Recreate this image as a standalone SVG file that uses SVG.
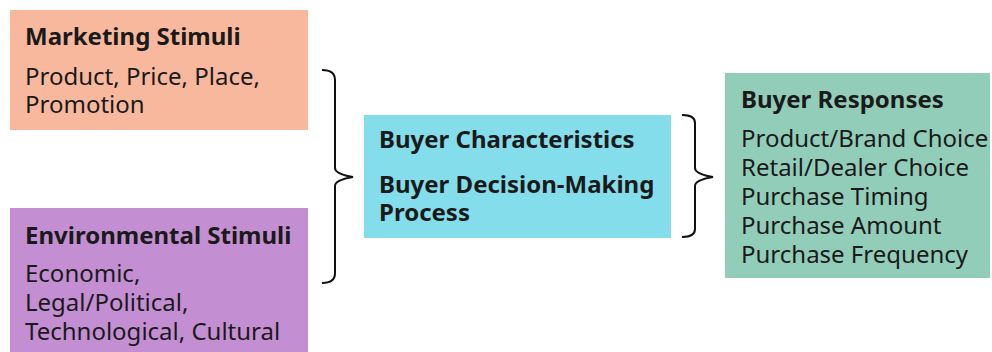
<svg xmlns="http://www.w3.org/2000/svg" width="992" height="352" viewBox="0 0 992 352">
<style>
text{font-family:"Noto Sans","Open Sans","DejaVu Sans",sans-serif;fill:#1a1a1a;font-size:24px}
.t{font-weight:bold;font-size:24px}
.br{fill:none;stroke:#111;stroke-width:2}
</style>
<rect width="992" height="352" fill="#fff"/>
<g id="marketing">
<rect x="10" y="10" width="298" height="120" fill="#F8B89E"/>
<text class="t" x="25" y="45">Marketing Stimuli</text>
<text x="25" y="85">Product, Price, Place,</text>
<text x="25" y="113">Promotion</text>
</g>
<g id="environmental">
<rect x="10" y="208" width="298" height="144" fill="#C48ED3"/>
<text class="t" x="25" y="244">Environmental Stimuli</text>
<text x="25" y="282">Economic,</text>
<text x="25" y="311">Legal/Political,</text>
<text x="25" y="340">Technological, Cultural</text>
</g>
<g id="buyer">
<rect x="364" y="115" width="307" height="123" fill="#84DDEB"/>
<text class="t" x="379" y="148">Buyer Characteristics</text>
<text class="t" x="379" y="193">Buyer Decision-Making</text>
<text class="t" x="379" y="221">Process</text>
</g>
<g id="responses">
<rect x="725" y="73" width="265" height="205" fill="#92CDB9"/>
<text class="t" x="741" y="108">Buyer Responses</text>
<text x="741" y="147">Product/Brand Choice</text>
<text x="741" y="176">Retail/Dealer Choice</text>
<text x="741" y="205">Purchase Timing</text>
<text x="741" y="234">Purchase Amount</text>
<text x="741" y="263">Purchase Frequency</text>
</g>
<g id="connectors">
<path class="br" d="M322 70 Q335 70 335 80 L335 168 Q335 174 353 177 Q335 180 335 186 L335 273 Q335 283 322 283"/>
<path class="br" d="M682 115 Q695 115 695 123 L695 168 Q695 174 713 177 Q695 180 695 186 L695 229 Q695 237 682 237"/>
</g>
</svg>
